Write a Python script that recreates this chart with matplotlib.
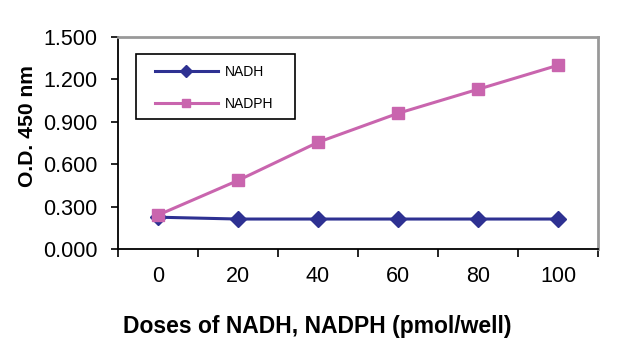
import numpy as np
import matplotlib.pyplot as plt
from matplotlib.patches import Rectangle

plt.rcParams['font.family'] = ['Liberation Sans', 'DejaVu Sans']

# doses (pmol/well) and O.D. readings
doses = ['0', '20', '40', '60', '80', '100']
nadh = [0.225, 0.212, 0.212, 0.212, 0.212, 0.212]
nadph = [0.240, 0.485, 0.755, 0.960, 1.130, 1.300]
yticks = [0.0, 0.3, 0.6, 0.9, 1.2, 1.5]

fig = plt.figure(figsize=(6.4, 3.61), dpi=100)
ax = fig.add_axes([118 / 640, 1 - 249 / 361, 480 / 640, 212 / 361])

x = np.arange(len(doses))
ax.plot(x, nadh, color='#2E3192', lw=2.2, marker='D', ms=8.5, label='NADH', zorder=3)
ax.plot(x, nadph, color='#C965AE', lw=2.2, marker='s', ms=9, label='NADPH', zorder=4)

ax.set_xlim(-0.5, len(doses) - 0.5)
ax.set_ylim(0, 1.5)
ax.set_yticks(yticks)
ax.set_yticklabels(['%.3f' % v for v in yticks], fontsize=15.5)
ax.set_xticks(x)
ax.set_xticklabels(doses, fontsize=15.5)
ax.set_xticks(np.arange(-0.5, len(doses)), minor=True)
ax.tick_params(axis='x', which='major', length=0, pad=12)
ax.tick_params(axis='x', which='minor', length=6, width=1.2, direction='out')
ax.tick_params(axis='y', length=5, width=1.2, direction='out', pad=10)

for s in ['left', 'bottom']:
    ax.spines[s].set_color('black')
    ax.spines[s].set_linewidth(1.3)
for s in ['top', 'right']:
    ax.spines[s].set_color('#999999')
    ax.spines[s].set_linewidth(2)

ax.set_ylabel('O.D. 450 nm', fontsize=15.2, fontweight='bold')
ax.yaxis.set_label_coords(-81 / 480, (249 - 126) / 212)
fig.text(317 / 640, 1 - 327 / 361, 'Doses of NADH, NADPH (pmol/well)', fontsize=16.5,
         fontweight='bold', ha='center', va='center')

# legend box drawn separately (Excel-style padding)
ax.add_patch(Rectangle(((136 - 118) / 480, (249 - 119) / 212), (295 - 136) / 480, 65 / 212,
                       transform=ax.transAxes, fill=True, facecolor='white',
                       edgecolor='black', lw=1.2, zorder=5))
leg = ax.legend(loc='upper left', bbox_to_anchor=(37 / 480, 1 - 28 / 212), fontsize=10,
                frameon=False, handlelength=4.5, markerscale=0.7,
                labelspacing=1.3, borderpad=0.0, handletextpad=0.5, borderaxespad=0)
leg.set_zorder(6)

fig.savefig('out.png', dpi=100)
